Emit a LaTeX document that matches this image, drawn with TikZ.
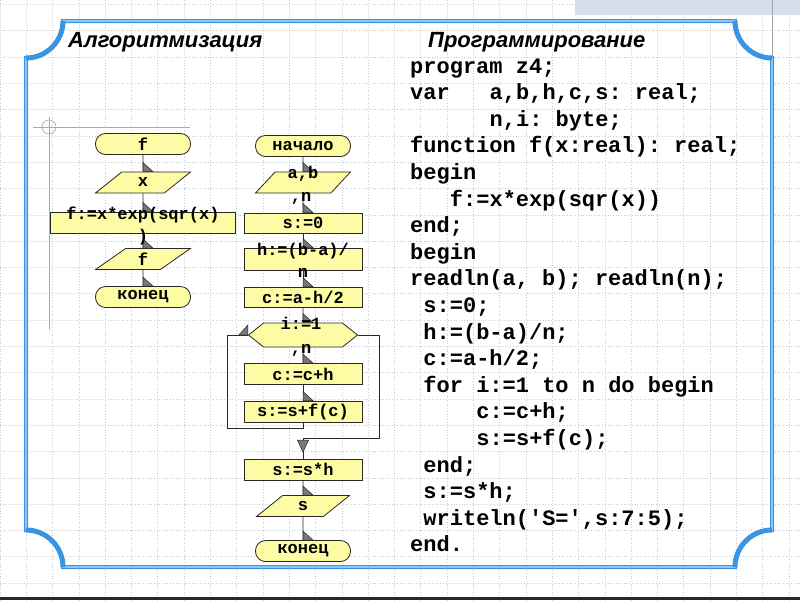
\documentclass[tikz,border=0pt]{standalone}
\usepackage{fontspec}
\setmonofont{Liberation Mono}
\newfontfamily\hdrfont{Liberation Sans}
\usetikzlibrary{shapes.geometric,shapes.symbols,decorations.markings}

\definecolor{fc}{RGB}{253,251,163}
\definecolor{lc}{RGB}{40,40,40}
\definecolor{hatc}{RGB}{120,120,120}
\definecolor{fblue}{RGB}{58,148,228}
\definecolor{gridc}{RGB}{200,203,212}
\definecolor{guidec}{RGB}{160,165,210}
\definecolor{bannerc}{RGB}{214,222,236}

\newcommand{\fcfont}{\ttfamily\bfseries\fontsize{17}{20}\selectfont}
\newcommand{\codefont}{\ttfamily\bfseries\fontsize{22}{26}\selectfont}
\newcommand{\hdfont}{\hdrfont\bfseries\itshape\fontsize{22}{25}\selectfont}

\tikzset{
  blk/.style={draw=lc,fill=fc,line width=.8pt,inner sep=0pt,font=\fcfont},
  term/.style={blk,rounded corners=10pt,minimum width=95pt,minimum height=21pt},
  iobox/.style={blk,trapezium,trapezium left angle=55,trapezium right angle=125,
    trapezium stretches=true,minimum width=95pt,minimum height=21pt},
  proc/.style={blk,rectangle,minimum width=118pt,minimum height=21pt},
  cyc/.style={blk,signal,signal to=east and west,signal pointer angle=77,
    minimum width=109pt,minimum height=24pt},
  ftxt/.style={font=\fcfont,inner sep=0pt,text height=10pt,text depth=2pt},
  codeln/.style={font=\codefont,anchor=base west,inner sep=0pt},
  hdr/.style={font=\hdfont,anchor=west,inner sep=0pt},
  fline/.style={draw=lc,line width=.8pt},
  flag/.style={fline,postaction={decorate,decoration={markings,mark=at position 1 with
    {\filldraw[fill=hatc,draw=lc,line width=.5pt] (0pt,0pt) -- (-9pt,0pt) -- (0pt,10pt) -- cycle;}}}},
  merge/.style={fline,postaction={decorate,decoration={markings,mark=at position 0.4 with
    {\filldraw[fill=hatc,draw=lc,line width=.5pt] (6pt,0pt) -- (-6pt,5.5pt) -- (-6pt,-5.5pt) -- cycle;}}}}
}

\begin{document}
\begin{tikzpicture}[x=1pt,y=-1pt]

\useasboundingbox (0,0) rectangle (800,600);
\fill[white] (0,0) rectangle (800,600);

% сетка и фон
\draw[gridc,dotted,line width=.7pt,step=26.3pt,shift={(0,4.5)}] (0,-4.5) grid (800,596);
\fill[bannerc] (575,0) rectangle (800,15);
\draw[gridc!80!black,line width=.6pt] (772,0) -- (772,57);
\fill[lc] (0,597) rectangle (800,600);
\draw[guidec,line width=.6pt] (33,127) -- (190,127);
\draw[guidec,line width=.6pt] (49,117) -- (49,330);
\draw[guidec,line width=.6pt] (49,127) circle (7);

% рамка
\draw[fblue,line width=1.3pt,double=fblue!30,double distance=1.4pt]
  (63,21) -- (735,21) .. controls (735,41.4) and (751.6,58) .. (772,58)
  -- (772,530) .. controls (751.6,530) and (735,546.6) .. (735,567)
  -- (63,567) .. controls (63,546.6) and (46.4,530) .. (26,530)
  -- (26,58) .. controls (46.4,58) and (63,41.4) .. (63,21) -- cycle;
\draw[fblue,line width=5pt] (735,21) .. controls (735,41.4) and (751.6,58) .. (772,58);
\draw[fblue,line width=5pt] (772,530) .. controls (751.6,530) and (735,546.6) .. (735,567);
\draw[fblue,line width=5pt] (63,567) .. controls (63,546.6) and (46.4,530) .. (26,530);
\draw[fblue,line width=5pt] (26,58) .. controls (46.4,58) and (63,41.4) .. (63,21);

% заголовки
\node[hdr] (halg) at (68,42) {Алгоритмизация};
\node[hdr] (hprog) at (428,42) {Программирование};

% блок-схема функции
\node[term] (fbeg) at (143,144) {f};
\node[iobox] (fin) at (143,182.5) {x};
\node[proc,minimum width=185pt] (fcalc) at (143,222.5) {};
\node[iobox] (fout) at (143,259) {f};
\node[term] (fend) at (143,297) {конец};

\draw[flag] (fbeg) -- (fin);
\draw[flag] (fin) -- (fcalc);
\draw[flag] (fcalc) -- (fout);
\draw[flag] (fout) -- (fend);

% основная блок-схема
\node[term] (start) at (303,146) {начало};
\node[iobox] (inp) at (303,182.5) {\phantom{a,b}};
\node[proc,minimum height=20pt] (s0) at (303,223) {s:=0};
\node[proc,minimum height=22pt] (hstep) at (303,259) {};
\node[proc,minimum height=20pt] (c0) at (303,297) {c:=a-h/2};
\node[cyc] (loop) at (303,335) {\phantom{i:=1}};
\node[proc] (cinc) at (303,374) {c:=c+h};
\node[proc] (ssum) at (303,411.5) {s:=s+f(c)};
\node[proc] (smul) at (303,469.5) {s:=s*h};
\node[iobox,minimum width=93pt] (outp) at (303,506) {s};
\node[term] (stop) at (303,551) {конец};

\draw[flag] (start) -- (inp);
\draw[flag] (inp) -- (s0);
\draw[flag] (s0) -- (hstep);
\draw[flag] (hstep) -- (c0);
\draw[flag] (c0) -- (loop);
\draw[flag] (loop) -- (cinc);
\draw[flag] (cinc) -- (ssum);
\draw[flag] (smul) -- (outp);
\draw[flag] (outp) -- (stop);

% цикл
\coordinate (lb) at (303,428);
\coordinate (ll) at (227,428);
\coordinate (lt) at (227,335);
\coordinate (er) at (379,335);
\coordinate (eb) at (379,438);
\coordinate (mg) at (303,438);
\draw[flag] (ssum.south) -- (lb) -- (ll) -- (lt) -- (loop.west);
\draw[fline] (loop.east) -- (er) -- (eb) -- (mg);
\draw[merge] (mg) -- (smul.north);

% переносы текста в блоках
\node[ftxt] (fcalc1) at (143,215) {f:=x*exp(sqr(x)};
\node[ftxt] (fcalc2) at (143,237) {)};
\node[ftxt] (inp1) at (303,174) {a,b};
\node[ftxt] (inp2) at (301,197) {,n};
\node[ftxt] (hstep1) at (303,251) {h:=(b-a)/};
\node[ftxt] (hstep2) at (303,273) {n};
\node[ftxt] (loop1) at (301,325) {i:=1};
\node[ftxt] (loop2) at (301,349) {,n};

% программа
\def\lx{410}
\def\cw{13.25}
\node[codeln] (p0) at (\lx,73) {program z4;};
\node[codeln] (p1) at (\lx,99.6) {var};
\node[codeln] (p1b) at (\lx+6*\cw,99.6) {a,b,h,c,s: real;};
\node[codeln] (p2) at (\lx+6*\cw,126.2) {n,i: byte;};
\node[codeln] (p3) at (\lx,152.8) {function f(x:real): real;};
\node[codeln] (p4) at (\lx,179.4) {begin};
\node[codeln] (p5) at (\lx+3*\cw,206) {f:=x*exp(sqr(x))};
\node[codeln] (p6) at (\lx,232.6) {end;};
\node[codeln] (p7) at (\lx,259.2) {begin};
\node[codeln] (p8) at (\lx,285.8) {readln(a, b); readln(n);};
\node[codeln] (p9) at (\lx+\cw,312.4) {s:=0;};
\node[codeln] (p10) at (\lx+\cw,339) {h:=(b-a)/n;};
\node[codeln] (p11) at (\lx+\cw,365.6) {c:=a-h/2;};
\node[codeln] (p12) at (\lx+\cw,392.2) {for i:=1 to n do begin};
\node[codeln] (p13) at (\lx+5*\cw,418.8) {c:=c+h;};
\node[codeln] (p14) at (\lx+5*\cw,445.4) {s:=s+f(c);};
\node[codeln] (p15) at (\lx+\cw,472) {end;};
\node[codeln] (p16) at (\lx+\cw,498.6) {s:=s*h;};
\node[codeln] (p17) at (\lx+\cw,525.2) {writeln('S=',s:7:5);};
\node[codeln] (p18) at (\lx,551.8) {end.};

\end{tikzpicture}
\end{document}
